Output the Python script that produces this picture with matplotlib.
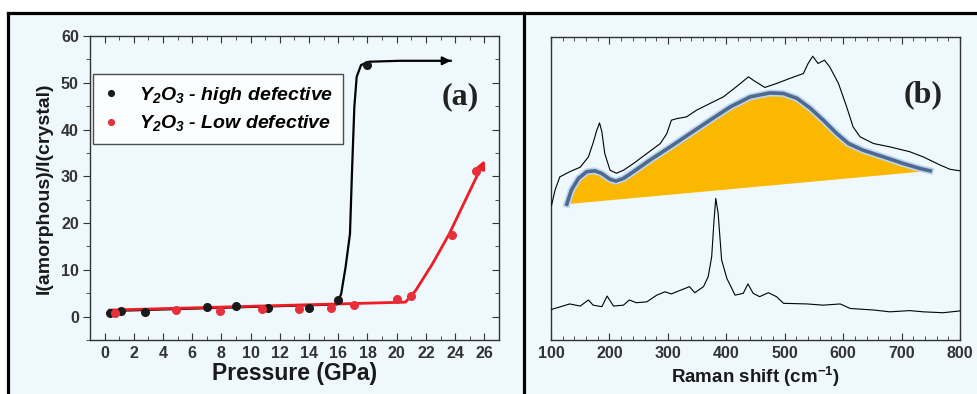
import matplotlib
matplotlib.use('Agg')
import matplotlib.pyplot as plt
import matplotlib.patheffects as pe
from matplotlib.lines import Line2D
from matplotlib.patches import Rectangle
from matplotlib.ticker import MultipleLocator

# ---- panel (a): amorphous / crystal ratio vs pressure ----
high_p = [0.35, 1.15, 2.8, 7.0, 9.0, 11.2, 14.0, 16.0, 17.95]
high_r = [0.8, 1.3, 0.9, 2.1, 2.3, 1.8, 1.9, 3.6, 53.9]
low_p = [0.7, 4.9, 7.9, 10.8, 13.3, 15.5, 17.1, 20.0, 21.0, 23.8, 25.4]
low_r = [0.7, 1.4, 1.1, 1.6, 1.6, 1.9, 2.4, 3.7, 4.4, 17.4, 31.1]

# guide lines
high_fit_p = [0.3, 8.0, 15.9, 16.2, 16.5, 16.8, 16.95, 17.1, 17.26, 17.56, 18.1, 20.2, 23.7]
high_fit_r = [1.2, 1.9, 2.6, 4.9, 10.6, 17.7, 32.0, 44.9, 51.3, 53.8, 54.5, 54.7, 54.7]
low_fit_p = [0.35, 20.6, 21.3, 22.45, 23.6, 24.7, 25.9]
low_fit_r = [1.4, 3.1, 5.6, 11.3, 17.7, 24.9, 32.7]

# ---- panel (b): Raman spectra (arbitrary units) ----
top_x = [101, 107, 115, 132, 150, 164, 172, 178, 183, 187, 192, 201, 212, 224, 241,
         264, 287, 298, 306, 315, 332, 349, 372, 395, 417, 438, 446, 466, 486, 509,
         532, 540, 548, 557, 568, 577, 592, 606, 617, 629, 652, 680, 714, 737, 766,
         783, 800]
top_y = [44.5, 49.5, 53.8, 55.5, 57.0, 60.4, 65.0, 69.0, 71.6, 68.7, 61.5, 56.0, 55.0,
         56.0, 58.2, 61.5, 64.8, 68.0, 72.5, 73.0, 73.6, 75.8, 78.0, 80.2, 83.5, 86.8,
         85.7, 83.3, 84.6, 86.3, 87.9, 91.2, 93.6, 91.2, 92.3, 90.1, 84.6, 76.9, 70.3,
         67.0, 64.8, 63.7, 62.1, 60.4, 57.7, 56.3, 55.8]
bot_x = [101, 132, 150, 164, 172, 187, 196, 207, 224, 234, 246, 264, 281, 295, 306,
         320, 337, 346, 361, 369, 375, 379, 382, 386, 392, 401, 415, 429, 437, 446,
         457, 472, 486, 498, 538, 566, 595, 612, 652, 680, 714, 737, 771, 800]
bot_y = [10.1, 11.9, 11.2, 13.2, 11.5, 11.0, 14.5, 11.2, 11.5, 13.2, 12.3, 12.6, 14.8,
         15.9, 15.2, 16.3, 17.6, 15.6, 17.6, 20.9, 27.5, 39.6, 46.7, 41.8, 26.4, 20.3,
         14.8, 15.4, 18.5, 15.4, 14.3, 15.6, 14.3, 12.1, 11.9, 11.5, 11.9, 10.4, 9.9,
         9.3, 9.7, 9.3, 9.0, 9.6]
amor_x = [127, 135, 147, 161, 175, 187, 201, 211, 224, 241, 269, 304, 338, 372, 407,
          441, 475, 498, 521, 544, 566, 589, 609, 634, 669, 703, 731, 749]
amor_y = [44.8, 49.5, 53.3, 55.5, 55.8, 54.9, 53.0, 52.4, 53.3, 55.5, 59.3, 63.7, 68.1,
          72.5, 76.9, 80.2, 81.5, 81.3, 79.7, 76.4, 72.5, 68.1, 64.8, 62.6, 60.4, 58.2,
          56.6, 55.8]

BG = '#eef8fd'
TXT = '#333333'

plt.rcParams['font.family'] = ['Liberation Sans', 'DejaVu Sans']
plt.rcParams['font.weight'] = 'bold'
plt.rcParams['mathtext.fontset'] = 'custom'
plt.rcParams['mathtext.it'] = 'Liberation Sans:italic:bold'
plt.rcParams['mathtext.rm'] = 'Liberation Sans:italic:bold'

fig = plt.figure(figsize=(9.77, 3.94), dpi=100)
fig.patch.set_facecolor('white')

# light background + frame around the two panels
fig.add_artist(Rectangle((0.0087, 0), 1, 0.967, transform=fig.transFigure,
                         facecolor=BG, edgecolor='none', zorder=-10))
fig.add_artist(Line2D([0.0087, 1], [0.967, 0.967], color='black', lw=2.3))
fig.add_artist(Line2D([0.0087, 0.0087], [0, 0.967], color='black', lw=2.3))
fig.add_artist(Line2D([0.536, 0.536], [0, 0.967], color='black', lw=2.3))

ax1 = fig.add_axes([0.0921, 0.137, 0.4186, 0.7716])
ax2 = fig.add_axes([0.564, 0.137, 0.4186, 0.7696])

for ax in (ax1, ax2):
    ax.set_facecolor(BG)
    for s in ax.spines.values():
        s.set_color(TXT)
        s.set_linewidth(1.0)

# ---- (a) ----
ax1.plot(high_fit_p, high_fit_r, color='black', lw=1.6, zorder=2)
ax1.annotate('', xy=(23.9, 54.7), xytext=(23.0, 54.7),
             arrowprops=dict(arrowstyle='-|>', color='black', lw=1.6,
                             mutation_scale=12))
ax1.plot(low_fit_p, low_fit_r, color='#ee1c25', lw=2.0, zorder=3)
ax1.annotate('', xy=(26.1, 34.0), xytext=(25.5, 29.8),
             arrowprops=dict(arrowstyle='-|>', color='#ee1c25', lw=2.0,
                             mutation_scale=12))
ax1.plot(high_p, high_r, 'o', color='#1a1a1a', ms=5.5, zorder=4,
         label=r'$Y_2O_3$ - high defective')
ax1.plot(low_p, low_r, 'o', color='#e8303a', ms=5.5, zorder=5,
         label=r'$Y_2O_3$ - Low defective')

ax1.set_xlim(-1, 27)
ax1.set_ylim(-5, 60)
ax1.xaxis.set_major_locator(MultipleLocator(2))
ax1.xaxis.set_minor_locator(MultipleLocator(1))
ax1.yaxis.set_major_locator(MultipleLocator(10))
ax1.yaxis.set_minor_locator(MultipleLocator(5))
ax1.tick_params(axis='x', which='both', direction='in', top=True, colors=TXT,
                labelsize=11.5, pad=4)
ax1.tick_params(axis='y', which='both', direction='out', colors=TXT,
                labelsize=11.5, pad=3)
ax1.tick_params(which='major', length=5)
ax1.tick_params(which='minor', length=3)
# right side ticks pointing inward
ax1r = ax1.secondary_yaxis('right')
ax1r.yaxis.set_major_locator(MultipleLocator(10))
ax1r.yaxis.set_minor_locator(MultipleLocator(5))
ax1r.tick_params(which='both', direction='in', labelright=False, colors=TXT)
ax1r.tick_params(which='major', length=5)
ax1r.tick_params(which='minor', length=3)
ax1r.spines['right'].set_visible(False)

ax1.set_xlabel('Pressure (GPa)', fontsize=16.5, fontweight='bold', color='#1a1a1a',
               labelpad=1)
ax1.set_ylabel('I(amorphous)/I(crystal)', fontsize=14, fontweight='bold',
               color='#1a1a1a', labelpad=6)

leg = ax1.legend(loc='upper left', bbox_to_anchor=(0.007, 0.875), frameon=True,
                 fancybox=False, edgecolor='#222222', facecolor='white',
                 prop=dict(size=14, weight='bold', style='italic'),
                 handlelength=0.8, handletextpad=1.0, borderpad=0.55,
                 labelspacing=0.4, markerscale=0.75, borderaxespad=0)
leg.get_frame().set_linewidth(1.0)

ax1.text(0.905, 0.80, '(a)', transform=ax1.transAxes, ha='center', va='center',
         fontsize=23, fontweight='bold', family='Liberation Serif', color='#222222')

# ---- (b) ----
ax2.fill(amor_x, amor_y, color='#fbb800', zorder=1, lw=0)
ax2.plot(amor_x, amor_y, color='#50698e', lw=2.6, zorder=2,
         path_effects=[pe.Stroke(linewidth=5, foreground='#bcd6f2'), pe.Normal()])
ax2.plot(top_x, top_y, color='black', lw=0.8, zorder=3)
ax2.plot(bot_x, bot_y, color='black', lw=0.8, zorder=3)

ax2.set_xlim(100, 800)
ax2.set_ylim(0, 100)
ax2.xaxis.set_major_locator(MultipleLocator(100))
ax2.xaxis.set_minor_locator(MultipleLocator(20))
ax2.set_yticks([])
ax2.tick_params(axis='x', which='both', direction='in', top=True, colors=TXT,
                labelsize=11.5, pad=4)
ax2.tick_params(which='major', length=5)
ax2.tick_params(which='minor', length=3)
ax2.set_xlabel('Raman shift (cm$^{\\mathregular{-1}}$)', fontsize=13.5,
               fontweight='bold', color='#1a1a1a', labelpad=3)

ax2.text(0.91, 0.81, '(b)', transform=ax2.transAxes, ha='center', va='center',
         fontsize=23, fontweight='bold', family='Liberation Serif', color='#222222')

fig.savefig('out.png', dpi=100, facecolor=fig.get_facecolor())
